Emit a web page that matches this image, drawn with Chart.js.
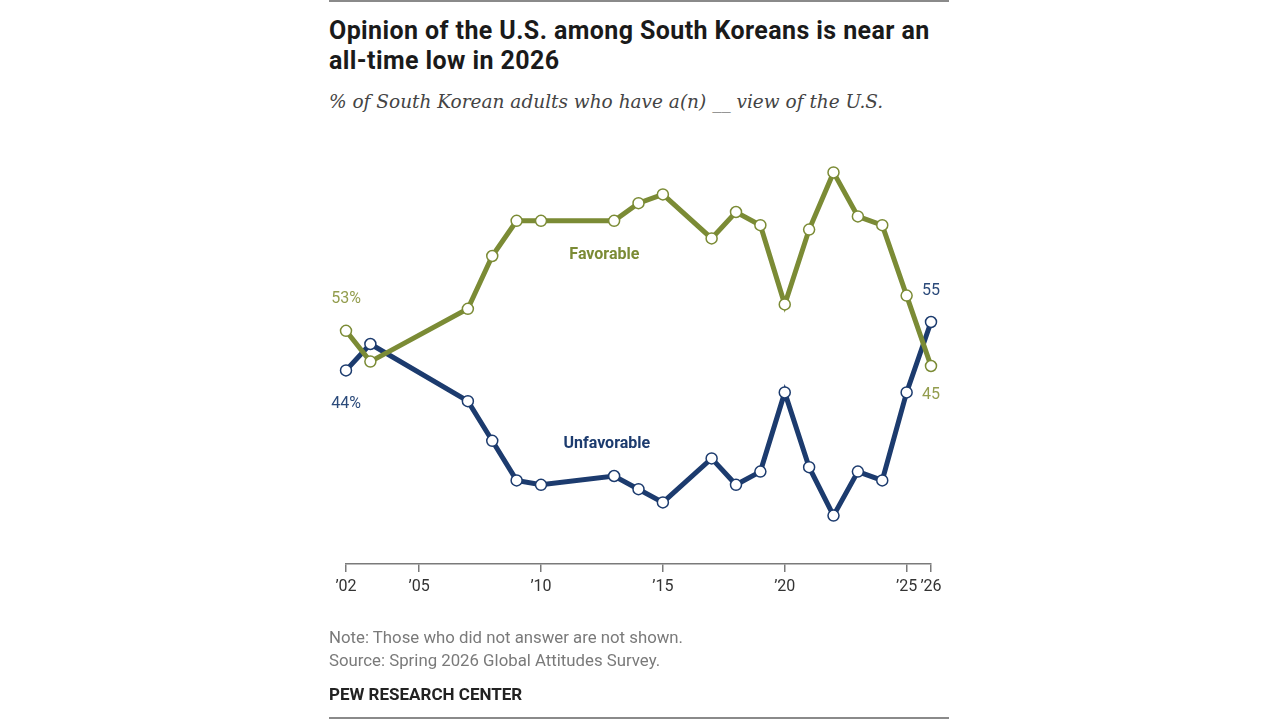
<!DOCTYPE html>
<html>
<head>
<meta charset="utf-8">
<script src="https://cdn.jsdelivr.net/npm/chart.js@4"></script>
<style>
  html, body { margin: 0; padding: 0; background: #fff; }
  #wrap { position: relative; width: 1280px; height: 720px; overflow: hidden; }
  #c { position: absolute; left: 0; top: 0; }
  .rule { position: absolute; left: 329px; width: 620px; height: 2px; background: #8a8a8a; }
  .txt { position: absolute; left: 329px; margin: 0; white-space: nowrap; }
  #title { top: 16px; font: bold 25px Roboto, sans-serif; line-height: 30px; color: #1a1a1a; letter-spacing: 0.4px; }
  #sub { top: 91px; font: italic 18.5px "DejaVu Serif", serif; color: #444; }
  #note { top: 626px; font: 16.8px Roboto, sans-serif; line-height: 23px; color: #7a7a7a; }
  #pew { top: 684px; font: bold 17px Roboto, sans-serif; color: #222; }
</style>
</head>
<body>
<div id="wrap">
  <div class="rule" style="top:0px"></div>
  <p class="txt" id="title">Opinion of the U.S. among South Koreans is near an<br>all-time low in 2026</p>
  <p class="txt" id="sub">% of South Korean adults who have a(n) __ view of the U.S.</p>
  <canvas id="c" width="1280" height="720"></canvas>
  <p class="txt" id="note">Note: Those who did not answer are not shown.<br>Source: Spring 2026 Global Attitudes Survey.</p>
  <p class="txt" id="pew">PEW RESEARCH CENTER</p>
  <div class="rule" style="top:717px"></div>
</div>
<script>
// survey years
var years = [2002, 2003, 2007, 2008, 2009, 2010, 2013, 2014, 2015, 2017, 2018, 2019, 2020, 2021, 2022, 2023, 2024, 2025, 2026];
var favorable   = [53, 46, 58, 70, 78, 78, 78, 82, 84, 74, 80, 77, 59, 76, 89, 79, 77, 61, 45];
var unfavorable = [44, 50, 37, 28, 19, 18, 20, 17, 14, 24, 18, 21, 39, 22, 11, 21, 19, 39, 55];
var tickYears = [2002, 2005, 2010, 2015, 2020, 2025, 2026];

var green = '#7b8b35';
var navy = '#1c3b6e';

function toPoints(vals) {
  var pts = [];
  for (var i = 0; i < years.length; i++) {
    pts.push({x: years[i], y: vals[i]});
  }
  return pts;
}

// end labels and series names
var labelPlugin = {
  id: 'labels',
  afterDatasetsDraw: function(chart) {
    var ctx = chart.ctx;
    var xs = chart.scales.x, ys = chart.scales.y;
    var last = years.length - 1;
    ctx.save();
    ctx.textAlign = 'center';
    ctx.textBaseline = 'middle';
    ctx.font = '16px Roboto, sans-serif';
    ctx.fillStyle = '#939d4e';
    ctx.fillText(favorable[0] + '%', xs.getPixelForValue(years[0]), ys.getPixelForValue(favorable[0]) - 32);
    ctx.fillText(favorable[last], xs.getPixelForValue(years[last]), ys.getPixelForValue(favorable[last]) + 29);
    ctx.fillStyle = '#2b4a7a';
    ctx.fillText(unfavorable[0] + '%', xs.getPixelForValue(years[0]), ys.getPixelForValue(unfavorable[0]) + 34);
    ctx.fillText(unfavorable[last], xs.getPixelForValue(years[last]), ys.getPixelForValue(unfavorable[last]) - 31);
    ctx.font = 'bold 16px Roboto, sans-serif';
    ctx.fillStyle = green;
    ctx.fillText('Favorable', xs.getPixelForValue(2012.6), ys.getPixelForValue(70.3));
    ctx.fillStyle = navy;
    ctx.fillText('Unfavorable', xs.getPixelForValue(2012.7), ys.getPixelForValue(27.2));
    ctx.restore();
  }
};

function series(label, vals, color) {
  return {
    label: label,
    data: toPoints(vals),
    borderColor: color,
    borderWidth: 5,
    pointRadius: 5.5,
    pointHoverRadius: 5.5,
    pointBackgroundColor: '#fff',
    pointBorderColor: color,
    pointBorderWidth: 1.5,
    tension: 0,
    clip: false
  };
}

new Chart(document.getElementById('c'), {
  type: 'line',
  data: {
    datasets: [series('Favorable', favorable, green), series('Unfavorable', unfavorable, navy)]
  },
  options: {
    responsive: false,
    animation: false,
    layout: { padding: { left: 346, right: 349, top: 124, bottom: 116 } },
    plugins: { legend: { display: false }, tooltip: { enabled: false } },
    scales: {
      x: {
        type: 'linear',
        min: 2002,
        max: 2026,
        afterBuildTicks: function(s) {
          s.ticks = tickYears.map(function(v) { return {value: v}; });
        },
        afterFit: function(s) { s.height = 40; },
        grid: { drawOnChartArea: false, drawTicks: true, tickLength: 8, color: '#7a7a7a', lineWidth: 1.5 },
        border: { display: true, color: '#7a7a7a', width: 1.5 },
        ticks: {
          autoSkip: false,
          maxRotation: 0,
          padding: 5,
          color: '#333',
          font: { family: 'Roboto, sans-serif', size: 16 },
          callback: function(v) { return "\u2019" + String(v).slice(2); }
        }
      },
      y: { display: false, min: 0, max: 100 }
    }
  },
  plugins: [labelPlugin]
});
</script>
</body>
</html>
